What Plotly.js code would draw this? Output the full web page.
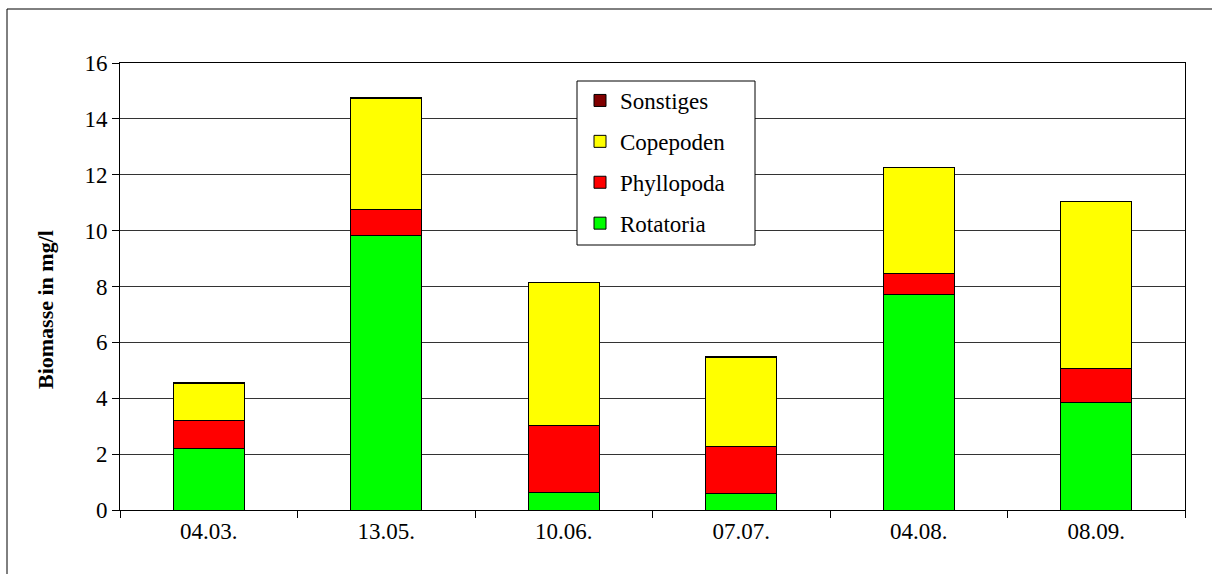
<!DOCTYPE html>
<html>
<head>
<meta charset="utf-8">
<script src="https://cdn.plot.ly/plotly-3.0.1.min.js"></script>
<style>html,body{margin:0;padding:0;background:#fff;}#chart{width:1212px;height:574px;}</style>
</head>
<body>
<div id="chart"></div>
<script>
const categories = ["04.03.", "13.05.", "10.06.", "07.07.", "04.08.", "08.09."];
const rotatoria  = [2.21, 9.82, 0.63, 0.60, 7.73, 3.84];
const phyllopoda = [1.01, 0.92, 2.40, 1.67, 0.72, 1.23];
const copepoden  = [1.32, 4.00, 5.10, 3.20, 3.80, 5.97];
const sonstiges  = [0.02, 0.02, 0.02, 0.02, 0.02, 0.02];
const yTicks = [0, 2, 4, 6, 8, 10, 12, 14, 16];

const serif = "Times New Roman, Times, Liberation Serif, serif";
function mk(name, y, color, rank) {
  return {type: "bar", name: name, x: categories, y: y, legendgroup: name, legendrank: rank,
    marker: {color: color, line: {color: "#000", width: 1}}, width: 0.4, hoverinfo: "y"};
}
const data = [
  mk("Rotatoria", rotatoria, "#00ff00", 4),
  mk("Phyllopoda", phyllopoda, "#ff0000", 3),
  mk("Copepoden", copepoden, "#ffff00", 2),
  mk("Sonstiges", sonstiges, "#800000", 1)
];
const L = 120, R = 27, T = 63, B = 64;
const pw = 1212 - L - R, ph = 574 - T - B;
const px = v => (v - L) / pw;
const py = v => (510 - v) / ph;
const layout = {
  width: 1212, height: 574,
  margin: {l: L, r: R, t: T, b: B, pad: 0},
  paper_bgcolor: "#fff", plot_bgcolor: "#fff",
  barmode: "stack",
  font: {family: serif, size: 23, color: "#000"},
  showlegend: true,
  legend: {x: px(580), y: py(79), xanchor: "left", yanchor: "top",
    borderwidth: 0, bgcolor: "rgba(0,0,0,0)", traceorder: "grouped",
    tracegroupgap: 8, font: {family: serif, size: 23, color: "#000"}},
  xaxis: {type: "category", showline: true, linecolor: "#000", linewidth: 1, mirror: true,
    ticks: "outside", tickson: "boundaries", ticklen: 7, tickcolor: "#000",
    showgrid: false, tickfont: {family: serif, size: 23}},
  yaxis: {range: [0, 16], tickvals: yTicks, ticktext: yTicks.map(String),
    showline: true, linecolor: "#000", linewidth: 1, mirror: true,
    ticks: "outside", ticklen: 7, tickcolor: "#000",
    showgrid: true, gridcolor: "#333", gridwidth: 1, zeroline: false,
    tickfont: {family: serif, size: 23}},
  annotations: [{text: "<b>Biomasse in mg/l</b>", xref: "paper", yref: "paper",
    x: px(45), y: py(310), xanchor: "center", yanchor: "middle", textangle: -90,
    showarrow: false, font: {family: serif, size: 22, color: "#000"}}],
  shapes: [
    {type: "rect", xref: "paper", yref: "paper",
     x0: px(7), x1: px(1230), y0: py(600), y1: py(9),
     line: {color: "#000", width: 1}, fillcolor: "rgba(0,0,0,0)", layer: "below"},
    {type: "rect", xref: "paper", yref: "paper",
     x0: px(577), x1: px(755), y0: py(245), y1: py(81),
     line: {color: "#000", width: 1}, fillcolor: "#fff", layer: "above"}
  ]
};
Plotly.newPlot("chart", data, layout, {displayModeBar: false, staticPlot: true});
</script>
</body>
</html>
